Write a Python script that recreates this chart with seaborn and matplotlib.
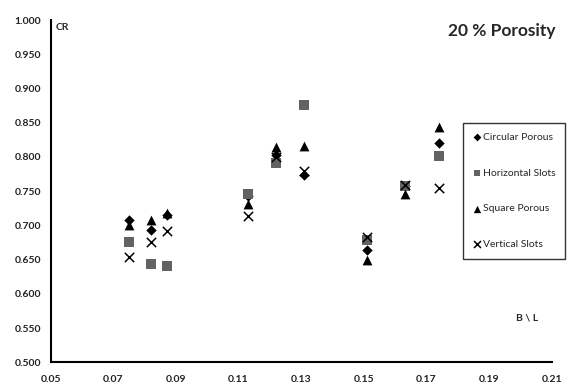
import matplotlib
matplotlib.use("Agg")
import matplotlib.pyplot as plt
import seaborn as sns
import pandas as pd

sns.set_style("white")
plt.rcParams['font.family'] = ['Lato', 'DejaVu Sans']

# Data
bl = [0.075, 0.082, 0.087, 0.113, 0.122, 0.131, 0.151, 0.163, 0.174]
circular_porous = [0.708, 0.693, 0.715, 0.743, 0.803, 0.774, 0.664, 0.757, 0.820]
horizontal_slots = [0.675, 0.644, 0.640, 0.746, 0.791, 0.876, 0.679, 0.757, 0.801]
square_porous = [0.700, 0.708, 0.718, 0.731, 0.814, 0.816, 0.650, 0.746, 0.844]
vertical_slots = [0.654, 0.675, 0.692, 0.713, 0.800, 0.779, 0.683, 0.759, 0.754]

series_names = ["Circular Porous", "Horizontal Slots", "Square Porous", "Vertical Slots"]
series_values = [circular_porous, horizontal_slots, square_porous, vertical_slots]
x_ticks = [0.05, 0.07, 0.09, 0.11, 0.13, 0.15, 0.17, 0.19, 0.21]
y_ticks = [0.500, 0.550, 0.600, 0.650, 0.700, 0.750, 0.800, 0.850, 0.900, 0.950, 1.000]

styles = {
    "Circular Porous": dict(marker="D", color="black", s=28),
    "Horizontal Slots": dict(marker="s", color="#626262", s=45),
    "Square Porous": dict(marker="^", color="black", s=50),
    "Vertical Slots": dict(marker="x", color="black", s=45),
}

df = pd.concat([pd.DataFrame({"B/L": bl, "CR": v, "Series": n})
                for n, v in zip(series_names, series_values)], ignore_index=True)

fig = plt.figure(figsize=(5.68, 3.87), dpi=100)
ax = fig.add_axes([50.7/568, 1-362.3/387, (551.7-50.7)/568, (362.3-20)/387])

for name in series_names:
    sub = df[df["Series"] == name]
    st = styles[name]
    kw = dict(linewidth=1.1) if st["marker"] == "x" else dict(linewidth=0)
    sns.scatterplot(data=sub, x="B/L", y="CR", marker=st["marker"], color=st["color"],
                    s=st["s"], label=name, ax=ax, zorder=3, **kw)

ax.set_xlim(0.05, 0.21)
ax.set_ylim(0.5, 1.0)
ax.set_xticks(x_ticks)
ax.set_xticklabels([f"{t:.2f}" for t in x_ticks])
ax.set_yticks(y_ticks)
ax.set_yticklabels([f"{t:.3f}" for t in y_ticks])
ax.set_xlabel("")
ax.set_ylabel("")
for s in ["top", "right"]:
    ax.spines[s].set_visible(False)
for s in ["left", "bottom"]:
    ax.spines[s].set_color("black")
    ax.spines[s].set_linewidth(1.5)
ax.tick_params(axis="both", direction="out", length=4, width=1, color="black",
               labelsize=7.5, pad=3)
for lab in ax.get_xticklabels() + ax.get_yticklabels():
    lab.set_fontweight("bold")
    lab.set_color("#222222")
ax.tick_params(axis="x", pad=5.5)

fig.text(56/568, 1-28/387, "CR", fontsize=7.5, fontweight="bold", va="center", ha="left")
fig.text(538/568, 1-318/387, "B \\ L", fontsize=7.5, fontweight="bold", va="center", ha="right")
fig.text(556/568, 1-31/387, "20 % Porosity", fontsize=12.5, fontweight="bold",
         va="center", ha="right")

leg = ax.legend(loc="upper left", bbox_to_anchor=(463/568, 1-123/387),
                bbox_transform=fig.transFigure, borderaxespad=0, frameon=True,
                fancybox=False, edgecolor="black", fontsize=7.5, labelspacing=2.55,
                handletextpad=0.1, handlelength=0.9, borderpad=0.9, markerscale=0.75)
leg.get_frame().set_linewidth(1.0)
leg.set_zorder(5)

fig.savefig("out.png", dpi=100)
